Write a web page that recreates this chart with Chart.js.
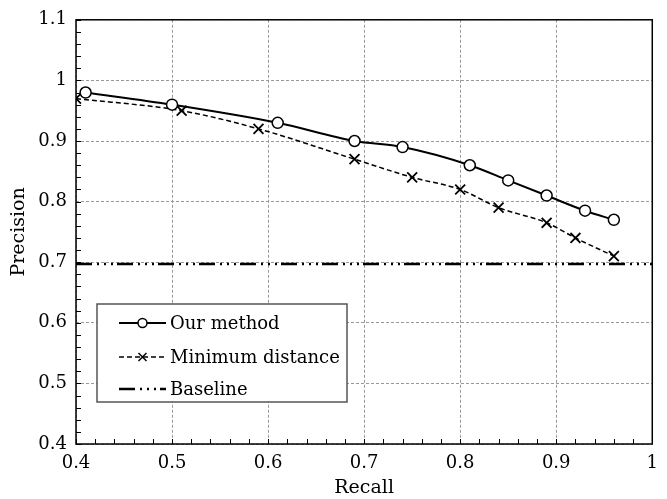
<!DOCTYPE html>
<html><head><meta charset="utf-8">
<script src="https://cdn.jsdelivr.net/npm/chart.js@4/dist/chart.umd.min.js"></script>
<style>html,body{margin:0;padding:0;background:#fff}#w{width:667px;height:499px}</style>
</head><body><div id="w"><canvas id="c"></canvas></div>
<script>
const oursRecall = [0.41, 0.50, 0.61, 0.69, 0.74, 0.81, 0.85, 0.89, 0.93, 0.96];
const oursPrecision = [0.98, 0.96, 0.93, 0.90, 0.89, 0.86, 0.835, 0.81, 0.785, 0.77];
const minRecall = [0.40, 0.51, 0.59, 0.69, 0.75, 0.80, 0.84, 0.89, 0.92, 0.96];
const minPrecision = [0.97, 0.95, 0.92, 0.87, 0.84, 0.82, 0.79, 0.765, 0.74, 0.71];
const baselineRecall = [0.4, 1.0];
const baselinePrecision = [0.697, 0.697];
const xTickValues = [0.4, 0.5, 0.6, 0.7, 0.8, 0.9, 1.0];
const yTickValues = [0.4, 0.5, 0.6, 0.7, 0.8, 0.9, 1.0, 1.1];
const seriesNames = ['Our method', 'Minimum distance', 'Baseline'];

const FONT = '"DejaVu Serif", serif';
const pts = (xs, ys) => xs.map((x, i) => ({x, y: ys[i]}));
const fmt = v => { const r = Math.round(v * 10) / 10; return r === 1 ? '1' : r.toFixed(1); };

const frame = {
  id: 'frame',
  afterDraw(chart) {
    const {ctx, chartArea: a, scales: {x, y}} = chart;
    ctx.save();
    ctx.strokeStyle = '#000'; ctx.lineWidth = 1;
    ctx.beginPath();
    for (let v = 0.4; v <= 1.0001; v += 0.02) {
      const px = Math.round(x.getPixelForValue(v)) + 0.5;
      ctx.moveTo(px, a.bottom); ctx.lineTo(px, a.bottom - 5);
    }
    for (let v = 0.4; v <= 1.1001; v += 0.02) {
      const py = Math.round(y.getPixelForValue(v)) + 0.5;
      ctx.moveTo(a.left, py); ctx.lineTo(a.left + 5, py);
    }
    ctx.stroke();
    ctx.lineWidth = 1.5;
    ctx.strokeRect(a.left, a.top, a.right - a.left, a.bottom - a.top);
    // legend
    const lx = 97, ly = 304, lw = 250, lh = 98;
    ctx.fillStyle = '#fff';
    ctx.fillRect(lx, ly, lw, lh);
    ctx.strokeStyle = '#555'; ctx.lineWidth = 1.5;
    ctx.strokeRect(lx, ly, lw, lh);
    const rows = [323, 357, 389];
    chart.data.datasets.forEach((ds, i) => {
      const yy = rows[i];
      ctx.strokeStyle = '#000';
      ctx.lineWidth = ds.borderWidth;
      ctx.setLineDash(ds.borderDash || []);
      ctx.beginPath(); ctx.moveTo(119, yy); ctx.lineTo(166, yy); ctx.stroke();
      ctx.setLineDash([]);
      if (ds.pointStyle === 'circle') {
        ctx.fillStyle = '#fff'; ctx.lineWidth = 1.5;
        ctx.beginPath(); ctx.arc(142.5, yy, 4.5, 0, Math.PI * 2); ctx.fill(); ctx.stroke();
      } else if (ds.pointStyle === 'crossRot') {
        ctx.lineWidth = 1.5; ctx.beginPath();
        ctx.moveTo(138.5, yy - 4); ctx.lineTo(146.5, yy + 4);
        ctx.moveTo(146.5, yy - 4); ctx.lineTo(138.5, yy + 4); ctx.stroke();
      }
      ctx.fillStyle = '#000';
      ctx.font = '18px ' + FONT;
      ctx.textBaseline = 'middle';
      ctx.fillText(ds.label, 170, yy + 1);
    });
    ctx.restore();
  }
};

new Chart(document.getElementById('c'), {
  type: 'line',
  data: {
    datasets: [
      {label: seriesNames[0], data: pts(oursRecall, oursPrecision), borderColor: '#000', borderWidth: 2,
       pointStyle: 'circle', pointRadius: 5.5, pointBorderWidth: 1.5, pointBackgroundColor: '#fff', pointBorderColor: '#000',
       cubicInterpolationMode: 'monotone'},
      {label: seriesNames[1], data: pts(minRecall, minPrecision), borderColor: '#000', borderWidth: 1.5, borderDash: [5, 3],
       pointStyle: 'crossRot', pointRadius: 7, pointBorderWidth: 1.8, pointBorderColor: '#000',
       cubicInterpolationMode: 'monotone'},
      {label: seriesNames[2], data: pts(baselineRecall, baselinePrecision), borderColor: '#000', borderWidth: 2.5,
       borderDash: [16, 5, 2, 5, 2, 5, 2, 4], pointRadius: 0}
    ]
  },
  options: {
    responsive: true, maintainAspectRatio: false, animation: false,
    layout: {padding: {top: 12, right: 4, left: 8, bottom: 0}},
    plugins: {legend: {display: false}, tooltip: {enabled: false}},
    scales: {
      x: {
        type: 'linear', min: 0.4, max: 1.0,
        afterBuildTicks: s => { s.ticks = xTickValues.map(v => ({value: v})); },
        afterFit: s => { s.height = 55; },
        ticks: {color: '#000', font: {family: FONT, size: 18}, padding: 9, callback: v => fmt(v), maxRotation: 0, autoSkip: false},
        grid: {color: '#999', lineWidth: 1, drawTicks: false, tickLength: 0},
        border: {display: false, dash: [3, 2]},
        title: {display: true, text: 'Recall', color: '#000', font: {family: FONT, size: 19}, padding: {top: 0, bottom: 0}}
      },
      y: {
        type: 'linear', min: 0.4, max: 1.1,
        afterBuildTicks: s => { s.ticks = yTickValues.map(v => ({value: v})); },
        afterFit: s => { s.width = 68; },
        ticks: {color: '#000', font: {family: FONT, size: 18}, padding: 9, callback: v => fmt(v), autoSkip: false},
        grid: {color: '#999', lineWidth: 1, drawTicks: false, tickLength: 0},
        border: {display: false, dash: [3, 2]},
        title: {display: true, text: 'Precision', color: '#000', font: {family: FONT, size: 19}, padding: {top: 0, bottom: 4}}
      }
    }
  },
  plugins: [frame]
});
</script></body></html>
